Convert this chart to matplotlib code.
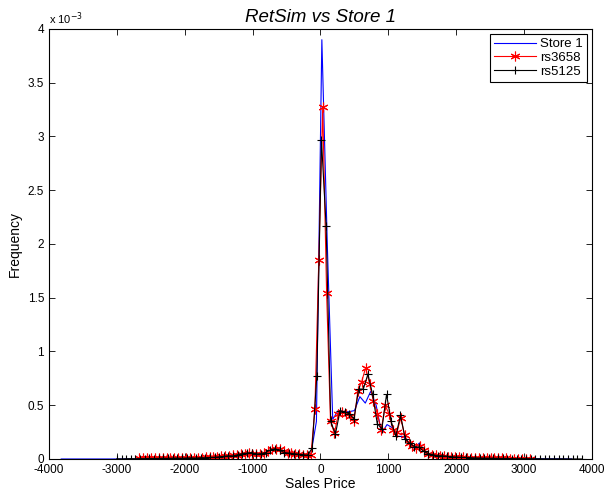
import numpy as np
from matplotlib import pyplot as plt

plt.rcParams['font.family'] = ['Liberation Sans', 'DejaVu Sans']
plt.rcParams['axes.unicode_minus'] = False

# frequencies in units of 1e-3, one value per histogram bin
# Store 1: bin centres -3820 .. 3700 (step 80)
store1_x = np.linspace(-3820, 3700, 95)
store1 = [0]*19 + [
    0.003, 0.004, 0.004, 0.005, 0.006, 0.007, 0.008, 0.01, 0.012, 0.015,
    0.018, 0.022, 0.028, 0.035, 0.04, 0.048, 0.05, 0.045, 0.05, 0.065,
    0.085, 0.09, 0.075, 0.06, 0.05, 0.045, 0.04,
    0.05, 0.35, 3.9, 2.0, 0.37, 0.45, 0.44, 0.44, 0.45, 0.58,
    0.52, 0.63, 0.5, 0.24, 0.32, 0.29, 0.21, 0.21, 0.14, 0.1,
    0.15, 0.06, 0.04, 0.03, 0.025, 0.02, 0.015,
    0.013, 0.012, 0.01, 0.009, 0.008, 0.007, 0.006, 0.005, 0.005, 0.004,
    0.004, 0.003, 0.003, 0.002, 0.002, 0.002, 0.001, 0.001, 0.001, 0.001,
    0, 0]

# rs3658: 101 bins, centres -2670 .. 3080
rs3658_x = np.linspace(-2670, 3080, 101)
rs3658 = [
    0.005, 0.006, 0.005, 0.007, 0.006, 0.008, 0.007, 0.008, 0.009, 0.008,
    0.01, 0.009, 0.011, 0.01, 0.012, 0.013, 0.012,
    0.015, 0.016, 0.018, 0.02, 0.024, 0.028, 0.032, 0.035, 0.04, 0.045,
    0.05, 0.055, 0.05, 0.045, 0.05, 0.06, 0.075, 0.09, 0.095, 0.09,
    0.07, 0.06, 0.055, 0.05, 0.045, 0.04, 0.035,
    0.04, 0.466, 1.85, 3.27, 1.545, 0.35, 0.24, 0.42, 0.44, 0.42,
    0.40, 0.35, 0.63, 0.72, 0.85, 0.7, 0.54, 0.42, 0.27, 0.5,
    0.42, 0.27, 0.25, 0.38, 0.22, 0.15, 0.12, 0.1, 0.12, 0.08,
    0.05, 0.04, 0.035, 0.03, 0.025, 0.022, 0.02,
    0.018, 0.016, 0.015, 0.013, 0.012, 0.011, 0.01, 0.009, 0.008, 0.007,
    0.007, 0.006, 0.005, 0.005, 0.004, 0.004, 0.003, 0.003, 0.002, 0.002]

# rs5125: 101 bins, centres -3000 .. 3850
rs5125_x = np.linspace(-3000, 3850, 101)
rs5125 = [
    0.002, 0, 0.002, 0.003, 0.002, 0.004, 0.003, 0.005, 0.004, 0.005,
    0.006, 0.005, 0.007, 0.008, 0.006, 0.009, 0.01, 0.008, 0.012, 0.011,
    0.014, 0.016, 0.02, 0.025, 0.03, 0.028, 0.04, 0.05, 0.055, 0.06,
    0.045, 0.05, 0.06, 0.085, 0.095, 0.08, 0.06, 0.055, 0.05, 0.045,
    0.04, 0.035, 0.1, 0.77,
    2.97, 2.17, 0.35, 0.23, 0.45, 0.44, 0.42, 0.375, 0.65, 0.65,
    0.79, 0.6, 0.33, 0.28, 0.6, 0.35, 0.21, 0.41, 0.19, 0.145,
    0.115, 0.11, 0.07, 0.05, 0.04, 0.03, 0.03, 0.025, 0.02, 0.018,
    0.015, 0.014, 0.012, 0.01, 0.009, 0.008, 0.007, 0.006, 0.005, 0.005,
    0.004, 0.004, 0.003, 0.003, 0.003, 0.002, 0.002, 0.002, 0.001, 0.001,
    0.001, 0.001, 0.001, 0, 0, 0, 0]

fig = plt.figure(figsize=(6.05, 4.96), dpi=100)
ax = fig.add_axes([0.081, 0.0746, 0.8975, 0.867])

ax.plot(store1_x, store1, color='blue', lw=0.8, label='Store 1')
ax.plot(rs3658_x, rs3658, color='red', lw=0.8, marker=(6, 2, 0), ms=7,
        markeredgewidth=0.8, label='rs3658')
ax.plot(rs5125_x, rs5125, color='black', lw=0.8, marker='+', ms=6,
        markeredgewidth=0.8, label='rs5125')

ax.set_xlim(-4000, 4000)
ax.set_ylim(0, 4)
ax.set_xticks(np.arange(-4000, 4001, 1000))
ax.set_yticks(np.arange(0, 4.01, 0.5))
ax.set_yticklabels(['0', '0.5', '1', '1.5', '2', '2.5', '3', '3.5', '4'])
ax.tick_params(direction='in', top=True, right=True, labelsize=8.5,
               length=4, width=0.6)
for s in ax.spines.values():
    s.set_linewidth(0.8)

ax.text(0.0, 1.005, r'x 10$^{-3}$', transform=ax.transAxes, fontsize=8,
        ha='left', va='bottom')
ax.set_title('RetSim vs Store 1', fontsize=13.5, style='italic', pad=5)
ax.set_xlabel('Sales Price', fontsize=10, labelpad=1)
ax.set_ylabel('Frequency', fontsize=10, labelpad=4)

leg = ax.legend(loc='upper right', fontsize=9.5, fancybox=False,
                framealpha=1, borderaxespad=0.4, handlelength=3.2,
                handletextpad=0.3, labelspacing=0.1, borderpad=0.3)
leg.get_frame().set_edgecolor('black')
leg.get_frame().set_linewidth(0.8)

fig.savefig('out.png', dpi=100)
